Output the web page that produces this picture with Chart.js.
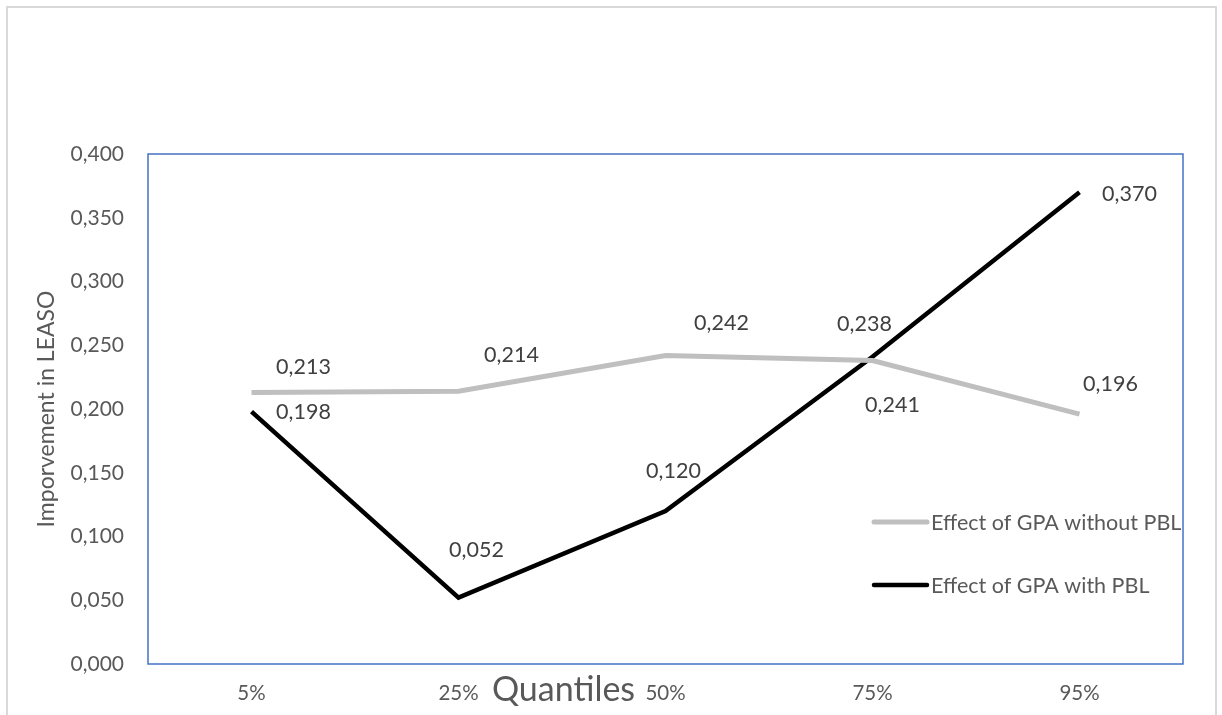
<!DOCTYPE html>
<html>
<head>
<meta charset="utf-8">
<title>Quantiles</title>
<script src="https://cdn.jsdelivr.net/npm/chart.js@4.4.1/dist/chart.umd.min.js"></script>
<style>
  html, body { margin: 0; padding: 0; background: #fff; }
  #wrap { width: 1222px; height: 715px; }
</style>
</head>
<body>
<div id="wrap"><canvas id="chartQuantiles" width="1222" height="715"></canvas></div>
<script>
// Quantile regression results
const quantiles = ["5%", "25%", "50%", "75%", "95%"];
const withoutPBL = [0.213, 0.214, 0.242, 0.238, 0.196];
const withPBL = [0.198, 0.052, 0.120, 0.241, 0.370];
const yTicks = [0, 0.05, 0.1, 0.15, 0.2, 0.25, 0.3, 0.35, 0.4];

const FONT = "Lato, Carlito, Calibri, sans-serif";

function fmt(v) {
    return v.toFixed(3).replace(".", ",");
}

// value label offsets (dx, dy) per point
const labelOffsets = [
    [[52, -25], [53, -36], [56, -32], [-8, -36], [31, -30]],
    [[52, 1], [18, -48], [8, -40], [20, 48], [50, 2]]
];

const framePlugin = {
    id: "frame",
    beforeDraw(chart) {
        const c = chart.ctx;
        c.save();
        c.fillStyle = "#fff";
        c.fillRect(0, 0, chart.width, chart.height);
        c.strokeStyle = "#d9d9d9";
        c.lineWidth = 2;
        c.strokeRect(7, 7, chart.width - 13, chart.height + 20);
        c.restore();
    },
    beforeDatasetsDraw(chart) {
        const a = chart.chartArea;
        const c = chart.ctx;
        c.save();
        c.strokeStyle = "#4472c4";
        c.lineWidth = 1.5;
        c.strokeRect(a.left, a.top, a.right - a.left, a.bottom - a.top);
        c.restore();
    },
    afterDatasetsDraw(chart) {
        const c = chart.ctx;
        const a = chart.chartArea;
        c.save();
        // value labels
        c.font = "21.5px " + FONT;
        c.fillStyle = "#404040";
        c.textAlign = "center";
        c.textBaseline = "middle";
        chart.data.datasets.forEach((ds, i) => {
            chart.getDatasetMeta(i).data.forEach((pt, j) => {
                const off = labelOffsets[i][j];
                c.fillText(fmt(ds.data[j]), pt.x + off[0], pt.y + off[1]);
            });
        });
        // legend inside the plot, right side
        c.font = "21.5px " + FONT;
        c.fillStyle = "#595959";
        c.textAlign = "left";
        c.lineCap = "round";
        chart.data.datasets.forEach((ds, i) => {
            const y = a.bottom - 142 + i * 63;
            const x = a.right - 311;
            c.strokeStyle = ds.borderColor;
            c.lineWidth = ds.borderWidth;
            c.beginPath();
            c.moveTo(x + 2, y);
            c.lineTo(x + 55, y);
            c.stroke();
            c.fillText(ds.label, x + 59, y + 1);
        });
        // x axis title
        c.font = "34px " + FONT;
        c.textAlign = "center";
        c.fillText("Quantiles", (a.left + a.right) / 2 - 102, 690);
        c.restore();
    }
};

new Chart(document.getElementById("chartQuantiles"), {
    type: "line",
    data: {
        labels: quantiles,
        datasets: [
            {
                label: "Effect of GPA without PBL",
                data: withoutPBL,
                borderColor: "#bfbfbf",
                borderWidth: 5,
                pointRadius: 0,
                tension: 0,
                fill: false
            },
            {
                label: "Effect of GPA with PBL",
                data: withPBL,
                borderColor: "#000000",
                borderWidth: 4.5,
                pointRadius: 0,
                tension: 0,
                fill: false
            }
        ]
    },
    options: {
        responsive: false,
        animation: false,
        layout: { padding: { top: 154, right: 39, left: 0, bottom: 0 } },
        plugins: {
            legend: { display: false },
            tooltip: { enabled: false }
        },
        scales: {
            x: {
                offset: true,
                grid: { display: false, drawTicks: false },
                border: { display: false },
                ticks: { color: "#595959", font: { family: FONT, size: 20.5 }, padding: 17 },
                afterFit(scale) { scale.height = 51; }
            },
            y: {
                min: 0,
                max: 0.4,
                afterBuildTicks(scale) { scale.ticks = yTicks.map(v => ({ value: v })); },
                grid: { display: false, drawTicks: false },
                border: { display: false },
                ticks: {
                    color: "#595959",
                    font: { family: FONT, size: 21 },
                    padding: 24,
                    callback: v => fmt(v)
                },
                title: {
                    display: true,
                    text: "Imporvement in LEASO",
                    color: "#595959",
                    font: { family: FONT, size: 23 },
                    padding: { top: 33, bottom: 0 }
                },
                afterFit(scale) { scale.width = 148; }
            }
        }
    },
    plugins: [framePlugin]
});
</script>
</body>
</html>
